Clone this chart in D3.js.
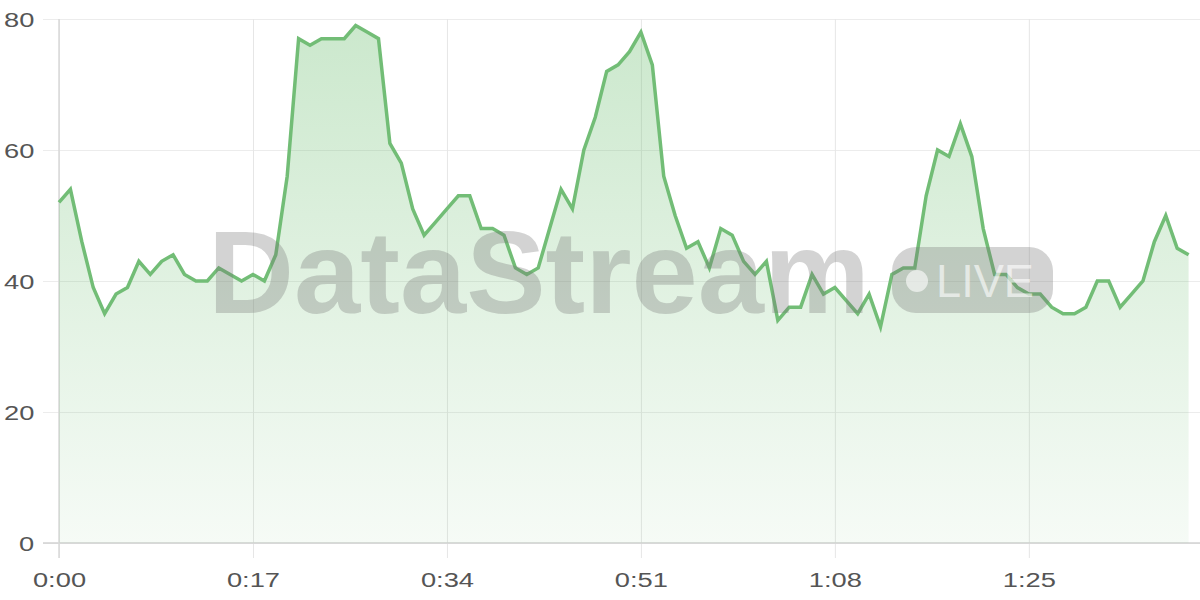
<!DOCTYPE html>
<html>
<head>
<meta charset="utf-8">
<script src="https://cdn.jsdelivr.net/npm/d3@7"></script>
<style>
  html, body { margin: 0; padding: 0; background: #fff; }
  .tick text { font-family: "Liberation Sans", Arial, sans-serif; font-size: 21px; fill: #555; }
</style>
</head>
<body>
<svg id="chart"></svg>
<script>
// one reading per second, 0:00 .. 1:39
const values = [
  52, 54, 46, 39, 35, 38, 39, 43, 41, 43,
  44, 41, 40, 40, 42, 41, 40, 41, 40, 44,
  56, 77, 76, 77, 77, 77, 79, 78, 77, 61,
  58, 51, 47, 49, 51, 53, 53, 48, 48, 47,
  42, 41, 42, 48, 54, 51, 60, 65, 72, 73,
  75, 78, 73, 56, 50, 45, 46, 42, 48, 47,
  43, 41, 43, 34, 36, 36, 41, 38, 39, 37,
  35, 38, 33, 41, 42, 42, 53, 60, 59, 64,
  59, 48, 41, 41, 39, 38, 38, 36, 35, 35,
  36, 40, 40, 36, 38, 40, 46, 50, 45, 44
];
const seconds = values.map((v, i) => i);
const xTicks = [0, 17, 34, 51, 68, 85];
const xTickLabels = ["0:00", "0:17", "0:34", "0:51", "1:08", "1:25"];
const yTicks = [0, 20, 40, 60, 80];

const W = 1200, H = 600;
const margin = { top: 19, right: 0, bottom: 57, left: 59 };
const innerW = W - margin.left - margin.right;
const innerH = H - margin.top - margin.bottom;
const lineColor = "#72bd76";

const svg = d3.select("#chart").attr("width", W).attr("height", H);

const x = d3.scaleLinear().domain([0, 100]).range([0, innerW]);
const y = d3.scaleLinear().domain([0, 80]).range([innerH, 0]);

const defs = svg.append("defs");
const grad = defs.append("linearGradient")
    .attr("id", "areaFill")
    .attr("gradientUnits", "userSpaceOnUse")
    .attr("x1", 0).attr("x2", 0)
    .attr("y1", 0).attr("y2", innerH);
grad.append("stop").attr("offset", "0%").attr("stop-color", "#66bb6a").attr("stop-opacity", 0.34);
grad.append("stop").attr("offset", "100%").attr("stop-color", "#66bb6a").attr("stop-opacity", 0.06);

const g = svg.append("g").attr("transform", `translate(${margin.left},${margin.top})`);

// horizontal grid + y ticks
const yAxis = g.append("g")
    .call(d3.axisLeft(y).tickValues(yTicks).tickSize(16).tickPadding(0).tickFormat(d3.format("d")));
yAxis.select(".domain").remove();
yAxis.selectAll(".tick line").attr("stroke", "#ececec").attr("x2", innerW).attr("x1", -16);
yAxis.selectAll(".tick text")
    .attr("x", -19).attr("dy", "0.36em")
    .attr("transform", "scale(1.3,1)");

// vertical grid + x ticks
const xAxis = g.append("g")
    .attr("transform", `translate(0,${innerH})`)
    .call(d3.axisBottom(x).tickValues(xTicks).tickSize(15)
        .tickFormat((d, i) => xTickLabels[i]));
xAxis.select(".domain").remove();
xAxis.selectAll(".tick line").attr("stroke", "#e6e6e6").attr("y1", -innerH).attr("y2", 15);
xAxis.selectAll(".tick text")
    .attr("y", 44).attr("dy", 0)
    .attr("transform", "scale(1.3,1)");

// axis lines
g.append("line")
    .attr("x1", -16).attr("x2", innerW)
    .attr("y1", innerH).attr("y2", innerH)
    .attr("stroke", "#d2d2d2").attr("stroke-width", 1.5);
g.append("line")
    .attr("x1", 0).attr("x2", 0)
    .attr("y1", 0).attr("y2", innerH + 15)
    .attr("stroke", "#d8d8d8").attr("stroke-width", 1.5);

const area = d3.area()
    .x((d, i) => x(seconds[i]))
    .y0(y(0))
    .y1(d => y(d));

const line = d3.line()
    .x((d, i) => x(seconds[i]))
    .y(d => y(d));

g.append("path")
    .datum(values)
    .attr("d", area)
    .attr("fill", "url(#areaFill)");

// watermark
const wm = svg.append("g").attr("class", "watermark");
wm.append("text")
    .attr("x", 208).attr("y", 313)
    .attr("textLength", 662)
    .attr("lengthAdjust", "spacingAndGlyphs")
    .style("font-family", "Liberation Sans, Arial, sans-serif")
    .style("font-weight", "bold")
    .style("font-size", "116px")
    .attr("fill", "#767676").attr("fill-opacity", 0.32)
    .text("DataStream");
wm.append("rect")
    .attr("x", 892).attr("y", 247)
    .attr("width", 161).attr("height", 66)
    .attr("rx", 24)
    .attr("fill", "#767676").attr("fill-opacity", 0.32);
wm.append("circle")
    .attr("cx", 917).attr("cy", 281).attr("r", 11)
    .attr("fill", "#fff").attr("fill-opacity", 0.6);
wm.append("text")
    .attr("x", 936).attr("y", 297)
    .attr("textLength", 98)
    .attr("lengthAdjust", "spacingAndGlyphs")
    .style("font-family", "Liberation Sans, Arial, sans-serif")
    .style("font-size", "47px")
    .attr("fill", "#fff").attr("fill-opacity", 0.6)
    .text("LIVE");

g.append("path")
    .datum(values)
    .attr("d", line)
    .attr("fill", "none")
    .attr("stroke", lineColor)
    .attr("stroke-width", 3.5)
    .attr("stroke-linejoin", "miter");
</script>
</body>
</html>
